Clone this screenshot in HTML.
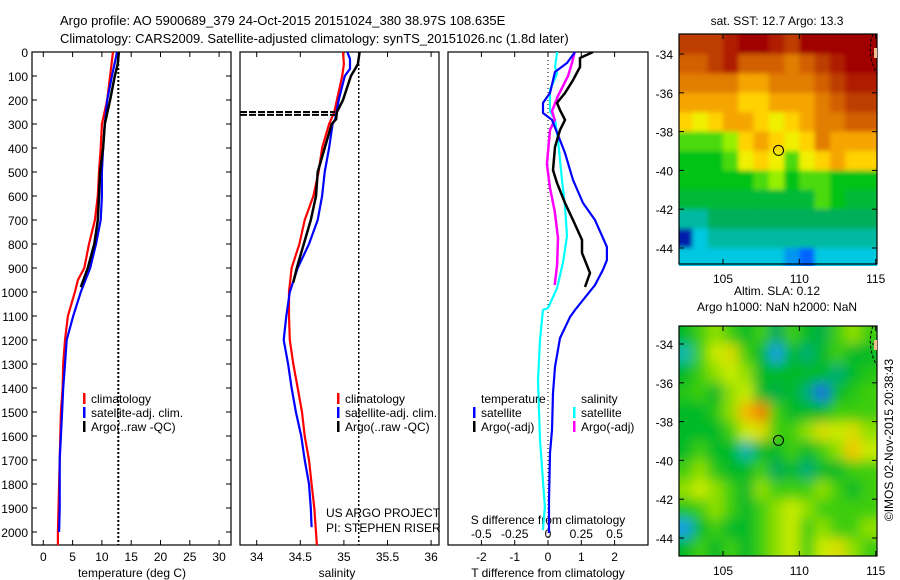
<!DOCTYPE html>
<html><head><meta charset="utf-8"><style>
html,body{margin:0;padding:0;background:#fff;}
svg{display:block;font-family:"Liberation Sans",sans-serif;}
text{font-size:12px;fill:#000;}
</style></head><body>
<svg id="fig" width="900" height="580" viewBox="0 0 900 580" xmlns="http://www.w3.org/2000/svg">
<defs>
<filter id="blurS" x="-5%" y="-5%" width="110%" height="110%"><feGaussianBlur stdDeviation="2.5" edgeMode="duplicate"/></filter>
<filter id="blurL" x="-5%" y="-5%" width="110%" height="110%"><feGaussianBlur stdDeviation="6" edgeMode="duplicate"/></filter>
<clipPath id="clipTop"><rect x="679" y="34" width="198" height="232"/></clipPath>
<clipPath id="clipBot"><rect x="679" y="326" width="198" height="230"/></clipPath>
<clipPath id="clipP1"><rect x="32" y="52" width="199" height="493"/></clipPath>
<clipPath id="clipP2"><rect x="240" y="52" width="199" height="493"/></clipPath>
<clipPath id="clipP3"><rect x="448" y="52" width="200" height="493"/></clipPath>
</defs>
<text x="60" y="25" style="font-size:13px">Argo profile: AO 5900689_379 24-Oct-2015 20151024_380 38.97S 108.635E</text>
<text x="60" y="43" style="font-size:13px">Climatology: CARS2009. Satellite-adjusted climatology: synTS_20151026.nc (1.8d later)</text>
<g id="g1"></g>
<g id="g2"></g>
<g id="g3"></g>
<g id="gm1"></g>
<g id="gm2"></g>
<text transform="translate(893,440) rotate(-90)" text-anchor="middle">©IMOS 02-Nov-2015 20:38:43</text>
</svg>
<script>
// ---- profile data ----
const tClimDepth = [0,100,200,300,400,500,600,700,800,900,950,1000,1100,1200,1300,1400,1500,1700,1800,2000,2054];
const tClim = [11.9,11.4,10.9,10.0,9.8,9.5,9.3,8.8,7.8,7.0,5.9,5.4,4.2,3.7,3.4,3.3,3.0,2.8,2.7,2.5,2.5];
const tSatDepth = [0,100,200,300,400,500,600,700,800,900,1000,1100,1200,1300,1400,1500,1700,1900,2000];
const tSat = [12.6,11.7,10.9,10.5,10.2,10.0,10.0,9.8,9.0,8.0,6.4,5.1,4.0,3.7,3.4,3.2,2.8,2.8,2.7];
const tArgoDepth = [0,50,100,200,300,400,500,600,700,800,900,980];
const tArgo = [12.9,12.7,12.2,11.4,10.5,10.2,9.7,9.5,9.3,8.7,7.6,6.4];
const tSatSST = 12.8;

const sClimDepth = [0,50,100,200,250,300,400,500,600,700,800,900,1000,1100,1200,1300,1400,1500,1600,1700,1800,1900,2054];
const sClim = [34.99,35.0,34.98,34.92,34.89,34.83,34.75,34.71,34.65,34.55,34.49,34.40,34.37,34.37,34.38,34.42,34.47,34.52,34.55,34.60,34.63,34.66,34.69];
const sSatDepth = [0,30,70,100,200,280,300,400,500,600,700,800,900,1000,1100,1200,1300,1400,1500,1600,1700,1800,1900,1980];
const sSat = [35.04,35.07,35.07,35.01,34.94,34.90,34.87,34.83,34.78,34.75,34.70,34.60,34.47,34.38,34.34,34.31,34.36,34.40,34.45,34.51,34.55,34.60,34.62,34.63];
const sArgoDepth = [0,50,70,100,200,250,280,300,400,500,600,700,800,900,960];
const sArgo = [35.18,35.16,35.13,35.08,34.99,34.92,34.91,34.86,34.78,34.70,34.68,34.62,34.54,34.46,34.42];
const sRef = 35.17;

const dTSatDepth = [0,46,83,171,212,254,283,367,421,533,629,700,812,867,908,971,1075,1104,1192,1312,1421,1575,1671,1867,2004];
const dTSat = [0.81,0.57,0.21,0.06,-0.15,-0.15,0.12,0.36,0.51,0.75,1.05,1.41,1.77,1.77,1.65,1.41,0.81,0.66,0.36,0.21,0.15,0.12,0.06,0.03,0.03];
const dTArgoDepth = [0,25,62,117,171,212,242,283,325,396,492,546,629,700,783,837,921,979];
const dTArgo = [1.35,0.96,0.96,0.75,0.51,0.27,0.36,0.51,0.36,0.21,0.15,0.27,0.51,0.75,1.02,1.02,1.26,1.11];
const dSArgoDepth = [0,46,100,183,246,283,325,467,567,663,775,887,971];
const dSArgo = [0.20,0.18,0.15,0.075,0.03,0.05,0.015,-0.008,0.015,0.05,0.075,0.068,0.05];
const dSSatDepth = [0,62,90,158,246,283,367,533,642,767,875,983,1067,1075,1200,1367,1617,1783,1896,1992];
const dSSat = [0.068,0.053,0.068,0.015,0.015,0.053,0.075,0.105,0.128,0.143,0.113,0.068,0.0,-0.038,-0.06,-0.075,-0.06,-0.038,-0.023,-0.038];

const depthTicks = [0,100,200,300,400,500,600,700,800,900,1000,1100,1200,1300,1400,1500,1600,1700,1800,1900,2000];
const tTicks = [0,5,10,15,20,25,30];
const sTicks = [34,34.5,35,35.5,36];
const dTTicks = [-2,-1,0,1,2];
const dSTicks = [-0.5,-0.25,0,0.25,0.5];
const dSTickLabels = ["-0.5","-0.25","0","0.25","0.5"];

// ---- map data ----
const mapLons = [102.5,103.5,104.5,105.5,106.5,107.5,108.5,109.5,110.5,111.5,112.5,113.5,114.5];
const mapLats = [-33.5,-34.5,-35.5,-36.5,-37.5,-38.5,-39.5,-40.5,-41.5,-42.5,-43.5,-44.5];
const sstGrid = [
[16,16,16,16.5,17,17,16.5,16,17,17,17,17,17],
[15.5,15.5,16,16.5,15.5,15.5,15.5,15,15.5,16,16.5,17,17],
[15,15,15,15,14.5,14.5,15,15,15,15.5,16,16.5,16.5],
[14.5,14.5,14.5,14.5,14,14,14.5,14.5,14.5,15,15.5,16,16],
[14,13.5,14,14.5,14.5,14,13.5,14,14.5,15,15,15.5,15.5],
[12.5,12.5,12.5,13,14,14.5,14,13.5,14,15,14.5,14.5,14.5],
[12,12,12,12.5,13.5,14,13.5,12.5,13.5,14,14.5,14,14],
[12,12,12,12,12,12.5,13,12,12.5,12.5,12,12,12],
[11.5,11.5,11.5,11.5,11.5,11.5,11.5,11.5,11.5,12.5,12,11.5,11.5],
[10.5,10.5,11,11,11,11,11,11,11,11,11,11,11],
[8,10,10.5,10.5,10.5,10.5,10.5,10.5,10.5,10.5,10.5,10.5,10.5],
[10,10,10,10,10,10,10,9.5,9,10,10,10,10]];
const slaGrid = [
[0,.05,.08,.05,0,.05,-.05,.05,0,-.03,.05,.08,.05],
[-.08,.05,.1,.12,.05,0,-.12,0,-.06,0,.05,0,0],
[0,.05,.08,.1,.08,0,0,0,0,0,-.06,0,.03],
[.03,.05,0,.08,.1,0,-.03,0,-.06,-.15,0,.03,.05],
[0,0,.03,.08,.16,.2,.05,0,0,0,.05,.05,.05],
[0,0,0,.05,.1,.12,.05,.05,.08,.12,.1,.12,.08],
[0,.05,0,0,-.08,0,0,.05,0,.05,.08,.15,.1],
[.05,.08,.03,0,0,.05,-.05,0,-.06,0,0,.05,.05],
[.08,.1,.08,.05,0,.08,.05,.05,.05,.08,.05,0,.05],
[.03,.05,.08,.05,0,.05,.08,.1,.08,.05,.05,.05,.05],
[-.12,0,.05,0,0,.05,.08,.1,.05,.08,.05,.05,.08],
[0,.05,0,.05,0,.05,.08,.1,.05,.1,.12,.08,.05]];
const mapLatTicks = [-34,-36,-38,-40,-42,-44];
const mapLonTicks = [105,110,115];
const argoLon = 108.635, argoLat = -38.97;

const NS = "http://www.w3.org/2000/svg";
function mk(tag, attrs, parent){const e=document.createElementNS(NS,tag);for(const k in attrs)e.setAttribute(k,attrs[k]);parent.appendChild(e);return e;}

const yD = d => 52 + d*0.24;
const xT = t => 43.3 + t*5.86;
const xS = s => 256.7 + (s-34)*87.2;
const xDT = t => 548 + t*33.3;
const xDS = s => 548 + s*133.2;

function line(g, depths, vals, xf, color, w, name, clip){
  const pts = depths.map((d,i)=>xf(vals[i]).toFixed(1)+","+yD(d).toFixed(1)).join(" ");
  const p = mk("polyline",{points:pts,fill:"none",stroke:color,"stroke-width":w,"clip-path":"url(#"+clip+")"},g);
  
  
}
function frame(g,x0,x1,name){
  const r = mk("rect",{x:x0,y:52,width:x1-x0,height:493,fill:"none",stroke:"#000","stroke-width":1.2},g);
  
  
}
function txt(g,x,y,s,anchor,name,size){
  const t = mk("text",{x:x,y:y,"text-anchor":anchor||"start"},g);
  if(size) t.setAttribute("style","font-size:"+size+"px");
  t.textContent = s;
  
  
  return t;
}
function xTicks(g, ticks, xf, labels, yLab, top, bottom, name){
  ticks.forEach((v,i)=>{
    const x = xf(v);
    if(bottom) mk("line",{x1:x,y1:545,x2:x,y2:540,stroke:"#000"},g);
    if(top) mk("line",{x1:x,y1:52,x2:x,y2:57,stroke:"#000"},g);
    txt(g,x,yLab,labels?labels[i]:String(v),"middle",name);
  });
}
function legendItem(g,x,y,color,label,name){
  const r = mk("rect",{x:x,y:y-10,width:2.5,height:11,fill:color},g);
  
  
  txt(g,x+8,y,label,"start",name);
}

// Panel 1
const g1 = document.getElementById("g1");
frame(g1,32,231,"temperature-axes-frame");
depthTicks.forEach(d=>{
  const y=yD(d);
  mk("line",{x1:32,y1:y,x2:37,y2:y,stroke:"#000"},g1);
  mk("line",{x1:231,y1:y,x2:226,y2:y,stroke:"#000"},g1);
  txt(g1,28,y+5,String(d),"end","depth-tick-label");
});
xTicks(g1,tTicks,xT,null,561,true,true,"temperature-tick-label");
const dl1 = mk("line",{x1:xT(tSatSST),y1:52,x2:xT(tSatSST),y2:545,stroke:"#000","stroke-width":2,"stroke-dasharray":"2,2"},g1);


line(g1,tClimDepth,tClim,xT,"#f00",2.2,"temperature-climatology-line","clipP1");
line(g1,tSatDepth,tSat,xT,"#00f",2.2,"temperature-satellite-line","clipP1");
line(g1,tArgoDepth,tArgo,xT,"#000",2.5,"temperature-argo-line","clipP1");
legendItem(g1,83,403,"#f00","climatology","legend-climatology");
legendItem(g1,83,417,"#00f","satellite-adj. clim.","legend-satellite");
legendItem(g1,83,431,"#000","Argo(..raw -QC)","legend-argo");
txt(g1,132,577,"temperature (deg C)","middle","temperature-axis-title");

// Panel 2
const g2 = document.getElementById("g2");
frame(g2,240,439,"salinity-axes-frame");
xTicks(g2,sTicks,xS,null,561,true,true,"salinity-tick-label");
const dl2 = mk("line",{x1:xS(sRef),y1:52,x2:xS(sRef),y2:545,stroke:"#000","stroke-width":1.5,"stroke-dasharray":"2,2"},g2);


line(g2,sClimDepth,sClim,xS,"#f00",2.2,"salinity-climatology-line","clipP2");
line(g2,sSatDepth,sSat,xS,"#00f",2.2,"salinity-satellite-line","clipP2");
line(g2,sArgoDepth,sArgo,xS,"#000",2.5,"salinity-argo-line","clipP2");
[250,262].forEach(d=>{
  const s = mk("line",{x1:240,y1:yD(d),x2:335,y2:yD(d),stroke:"#000","stroke-width":2,"stroke-dasharray":"7,2"},g2);
  
  
});
legendItem(g2,337,403,"#f00","climatology","legend-climatology");
legendItem(g2,337,417,"#00f","satellite-adj. clim.","legend-satellite");
legendItem(g2,337,431,"#000","Argo(..raw -QC)","legend-argo");
txt(g2,326,517,"US ARGO PROJECT","start","project-credit");
txt(g2,326,532,"PI: STEPHEN RISER","start","pi-credit");
txt(g2,337,577,"salinity","middle","salinity-axis-title");

// Panel 3
const g3 = document.getElementById("g3");
frame(g3,448,648,"difference-axes-frame");
xTicks(g3,dTTicks,xDT,null,561,true,true,"t-diff-tick-label");
dSTicks.forEach((v,i)=>txt(g3,xDS(v),538,dSTickLabels[i],"middle","s-diff-tick-label"));
txt(g3,548,524,"S difference from climatology","middle","s-diff-axis-title");
const zl = mk("line",{x1:548,y1:52,x2:548,y2:545,stroke:"#000","stroke-width":1,"stroke-dasharray":"1,3"},g3);


line(g3,dSSatDepth,dSSat,xDS,"#0ff",2.2,"salinity-diff-satellite-line","clipP3");
line(g3,dSArgoDepth,dSArgo,xDS,"#f0f",2.5,"salinity-diff-argo-line","clipP3");
line(g3,dTSatDepth,dTSat,xDT,"#00f",2.2,"temperature-diff-satellite-line","clipP3");
line(g3,dTArgoDepth,dTArgo,xDT,"#000",2.5,"temperature-diff-argo-line","clipP3");
txt(g3,481,403,"temperature","start","legend-temperature-header");
legendItem(g3,473,417,"#00f","satellite","legend-t-satellite");
legendItem(g3,473,431,"#000","Argo(-adj)","legend-t-argo");
txt(g3,581,403,"salinity","start","legend-salinity-header");
legendItem(g3,573,417,"#0ff","satellite","legend-s-satellite");
legendItem(g3,573,431,"#f0f","Argo(-adj)","legend-s-argo");
txt(g3,548,577,"T difference from climatology","middle","t-diff-axis-title");

// Colormaps
function rgb(c){return "rgb("+c.join(",")+")";}
function lerpStops(stops,v){
  if(v<=stops[0][0]) return rgb(stops[0][1]);
  for(let i=1;i<stops.length;i++){
    if(v<=stops[i][0]){
      const a=stops[i-1],b=stops[i],f=(v-a[0])/(b[0]-a[0]);
      return rgb([0,1,2].map(k=>Math.round(a[1][k]+(b[1][k]-a[1][k])*f)));
    }
  }
  return rgb(stops[stops.length-1][1]);
}
const sstStops=[[8,[0,30,170]],[9,[0,100,255]],[10,[0,200,225]],[10.5,[0,185,160]],[11,[0,175,90]],[12,[0,195,20]],[13,[150,240,0]],[13.5,[240,240,0]],[14,[255,210,0]],[14.5,[245,165,0]],[15,[225,125,0]],[15.5,[210,95,0]],[16,[190,60,0]],[17,[160,0,0]]];
const slaStops=[[-0.15,[20,110,225]],[-0.1,[20,190,225]],[-0.05,[0,170,90]],[0,[0,185,40]],[0.05,[60,205,10]],[0.1,[200,235,0]],[0.15,[245,200,0]],[0.2,[240,130,0]]];

function drawMap(gid, grid, stops, yTop, yLat34, blurId, clipId, title1, title2, lonLabY, name){
  const g=document.getElementById(gid);
  const xL = lon => 723 + (lon-105)*15.27;
  const yL = lat => yLat34 + (-34-lat)*19.4;
  const cells = mk("g",{"clip-path":"url(#"+clipId+")"},g);
  const inner = mk("g",{filter:"url(#"+blurId+")"},cells);
  mk("rect",{x:672,y:yTop-8,width:212,height:250,fill:lerpStops(stops,grid[5][6])},inner);
  grid.forEach((row,r)=>row.forEach((v,c)=>{
    const x0 = xL(mapLons[c]-0.5), y0 = yL(mapLats[r]+0.5);
    const cell = mk("rect",{x:(c===0?x0-10:x0).toFixed(1),y:(r===0?y0-10:y0).toFixed(1),width:(15.27+(c===0||c===row.length-1?10:0)+0.6).toFixed(1),height:(19.4+(r===0||r===grid.length-1?10:0)+0.6).toFixed(1),fill:lerpStops(stops,v)},inner);
    
    
  }));
  const bottom = yTop + 232;
  const fr = mk("rect",{x:679,y:yTop,width:198,height:bottom-yTop-2,fill:"none",stroke:"#000","stroke-width":1.2},g);
  
  
  mapLatTicks.forEach(l=>{
    const y=yL(l);
    mk("line",{x1:679,y1:y,x2:684,y2:y,stroke:"#000"},g);
    mk("line",{x1:877,y1:y,x2:872,y2:y,stroke:"#000"},g);
    txt(g,673,y+5,String(l),"end",name+"-lat-label");
  });
  mapLonTicks.forEach(l=>{
    const x=xL(l);
    mk("line",{x1:x,y1:yTop,x2:x,y2:yTop+5,stroke:"#000"},g);
    mk("line",{x1:x,y1:bottom-2,x2:x,y2:bottom-7,stroke:"#000"},g);
    txt(g,x,lonLabY,String(l),"middle",name+"-lon-label");
  });
  const cp = mk("path",{d:"M873,"+(yTop)+" Q866,"+(yTop+20)+" 877,"+(yTop+40),fill:"none",stroke:"#000","stroke-dasharray":"3,2"},g);
  
  
  mk("rect",{x:874,y:yTop+14,width:3,height:10,fill:"#f0c090"},g);
  const m = mk("circle",{cx:xL(argoLon),cy:yL(argoLat),r:5,fill:"none",stroke:"#000","stroke-width":1},g);
  
  
  txt(g,777,title2?yTop-31:yTop-9,title1,"middle",name+"-title");
  if(title2) txt(g,777,yTop-15,title2,"middle",name+"-subtitle");
}
drawMap("gm1",sstGrid,sstStops,34,54,"blurS","clipTop","sat. SST: 12.7 Argo: 13.3",null,283,"sst-map");
drawMap("gm2",slaGrid,slaStops,326,344,"blurL","clipBot","Altim. SLA: 0.12","Argo h1000: NaN h2000: NaN",575,"sla-map");
</script>
</body></html>
